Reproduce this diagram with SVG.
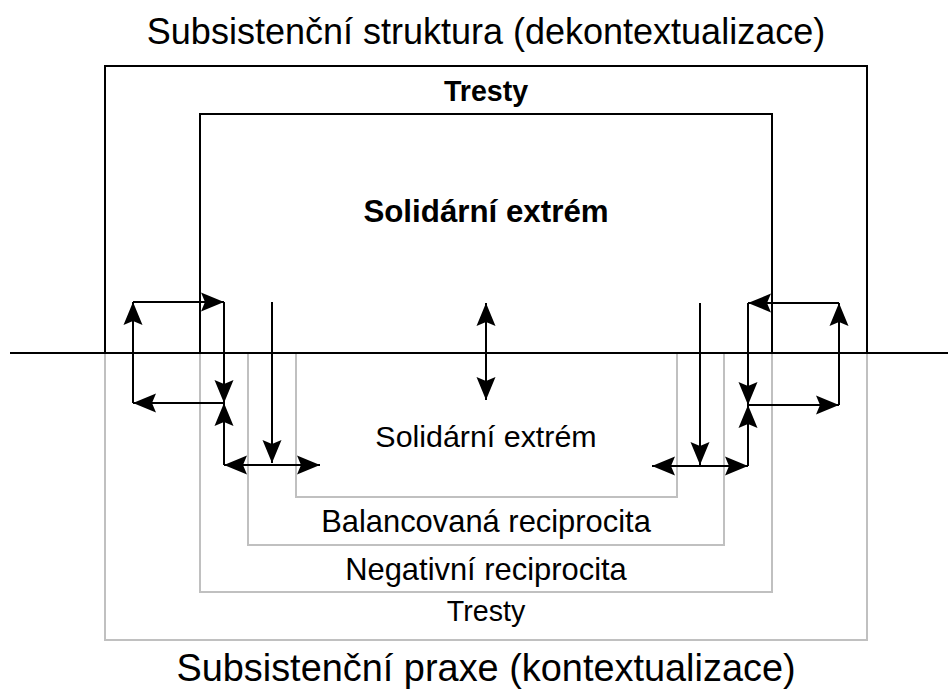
<svg xmlns="http://www.w3.org/2000/svg" width="948" height="693" viewBox="0 0 948 693">
<style>
.bk{fill:none;stroke:#000;stroke-width:2}
.gr{fill:none;stroke:#c0c0c0;stroke-width:2}
.ar{fill:none;stroke:#000;stroke-width:2;marker-end:url(#ah)}
.ar2{fill:none;stroke:#000;stroke-width:2;marker-end:url(#ah);marker-start:url(#ahs)}
text{font-family:"Liberation Sans",Arial,sans-serif;fill:#000;text-anchor:middle}
.b{font-weight:bold}
</style>
<defs>
<marker id="ah" markerUnits="userSpaceOnUse" markerWidth="23" markerHeight="20" refX="23" refY="10" orient="auto"><path d="M0,0.5 L23,10 L0,19.5 L4,10 z" fill="#000"/></marker>
<marker id="ahs" markerUnits="userSpaceOnUse" markerWidth="23" markerHeight="20" refX="23" refY="10" orient="auto-start-reverse"><path d="M0,0.5 L23,10 L0,19.5 L4,10 z" fill="#000"/></marker>
</defs>
<rect width="948" height="693" fill="#fff"/>
<g id="title"><text x="486" y="44" font-size="36">Subsistenční struktura (dekontextualizace)</text></g>
<g id="tresty-top"><path class="bk" d="M105,353 V66 H867 V353"/><text class="b" x="486" y="101" font-size="28.6">Tresty</text></g>
<g id="solidarni-top"><path class="bk" d="M200,353 V114 H772 V353"/><text class="b" x="486" y="222" font-size="31.3">Solidární extrém</text></g>
<g id="tresty-bottom"><path class="gr" d="M105,353 V640 H867 V353"/><text x="486" y="621" font-size="28.6">Tresty</text></g>
<g id="negativni"><path class="gr" d="M200,353 V592 H772 V353"/><text x="486" y="580" font-size="30.9">Negativní reciprocita</text></g>
<g id="balancovana"><path class="gr" d="M248,353 V545 H724 V353"/><text x="486" y="532" font-size="30.9">Balancovaná reciprocita</text></g>
<g id="solidarni-bottom"><path class="gr" d="M296,353 V497 H677 V353"/><text x="486" y="447" font-size="30.4">Solidární extrém</text></g>
<g id="divider"><path class="bk" d="M10,353 H948"/></g>
<g id="subtitle"><text x="486" y="681" font-size="37.9">Subsistenční praxe (kontextualizace)</text></g>
<g id="connectors">
<path class="ar" d="M133,403 V302"/>
<path class="ar" d="M133,302 H224"/>
<path class="ar" d="M224,302 V403"/>
<path class="ar" d="M224,403 H133"/>
<path class="ar" d="M224,465 V403"/>
<path class="ar2" d="M224,465 H320"/>
<path class="ar" d="M272,302 V463"/>
<path class="ar2" d="M486,400 V303"/>
<path class="ar" d="M700,303 V465"/>
<path class="ar2" d="M652,466 H748"/>
<path class="ar" d="M748,466 V405"/>
<path class="ar" d="M748,303 V405"/>
<path class="ar" d="M748,405 H839"/>
<path class="ar" d="M839,405 V303"/>
<path class="ar" d="M839,303 H748"/>
</g>
</svg>
